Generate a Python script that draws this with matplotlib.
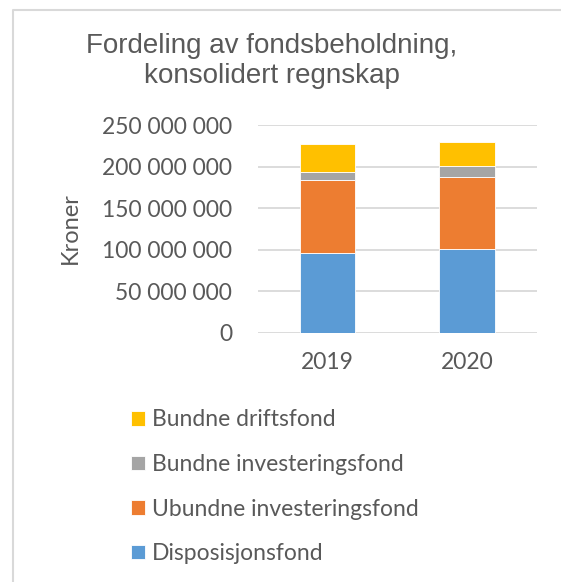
import matplotlib
matplotlib.use("Agg")
import matplotlib.pyplot as plt
from matplotlib.lines import Line2D
from matplotlib.ticker import FuncFormatter, MultipleLocator

years = ["2019", "2020"]
disposisjonsfond = [95.7e6, 101.2e6]
ubundne_investeringsfond = [87.9e6, 86.8e6]
bundne_investeringsfond = [10.4e6, 12.5e6]
bundne_driftsfond = [33.0e6, 29.3e6]

series_names = ["Disposisjonsfond", "Ubundne investeringsfond",
                "Bundne investeringsfond", "Bundne driftsfond"]
series_vals = [disposisjonsfond, ubundne_investeringsfond,
               bundne_investeringsfond, bundne_driftsfond]
colors = ["#5B9BD5", "#ED7D31", "#A5A5A5", "#FFC000"]

TXT = "#595959"
W, H = 561, 582
fig = plt.figure(figsize=(W / 100, H / 100), dpi=100)
fig.patch.set_facecolor("white")

ax = fig.add_axes([257.7 / W, 1 - 332.7 / H, 279 / W, 207.7 / H])
x = range(len(years))
bottom = [0.0] * len(years)
handles = []
for name, vals, c in zip(series_names, series_vals, colors):
    b = ax.bar(x, vals, width=0.4, bottom=bottom, color=c, label=name,
               edgecolor="white", linewidth=0.6, zorder=3)
    handles.append(b)
    bottom = [bb + v for bb, v in zip(bottom, vals)]

ax.set_xlim(-0.5, 1.5)
ax.set_ylim(0, 250e6)
ax.yaxis.set_major_locator(MultipleLocator(50e6))
ax.yaxis.set_major_formatter(FuncFormatter(lambda v, p: f"{int(round(v)):,}".replace(",", " ")))
ax.set_xticks(list(x))
ax.set_xticklabels(years)
ax.grid(axis="y", color="#D9D9D9", linewidth=1.3, zorder=0)
ax.set_axisbelow(True)
for s in ax.spines.values():
    s.set_visible(False)
ax.tick_params(axis="both", length=0, colors=TXT, labelsize=16.5)
ax.tick_params(axis="y", pad=18.5)
ax.tick_params(axis="x", pad=14)
for lab in ax.get_xticklabels() + ax.get_yticklabels():
    lab.set_fontfamily("Lato")

fig.text(70 / W, 1 - 228 / H, "Kroner", rotation=90, ha="center", va="center",
         fontsize=17, color=TXT, fontfamily="Lato")

fig.text(272 / W, 1 - 61 / H, "Fordeling av fondsbeholdning,\nkonsolidert regnskap",
         ha="center", va="center", fontsize=20, color=TXT,
         fontfamily="Liberation Sans", linespacing=1.2)

leg = fig.legend(handles[::-1], series_names[::-1], loc="upper left",
                 bbox_to_anchor=(120 / W, 1 - 398 / H), frameon=False,
                 prop={"family": "Lato", "size": 16.5}, labelcolor=TXT,
                 handlelength=0.6, handleheight=0.6, handletextpad=0.3,
                 labelspacing=1.03, borderpad=0)

# outer chart frame (top and left edges visible)
fig.add_artist(Line2D([13 / W, 13 / W, 1.0], [0.0, 1 - 10 / H, 1 - 10 / H],
                      transform=fig.transFigure, color="#D9D9D9", linewidth=1.5))

fig.savefig("out.png", dpi=100, facecolor="white")
